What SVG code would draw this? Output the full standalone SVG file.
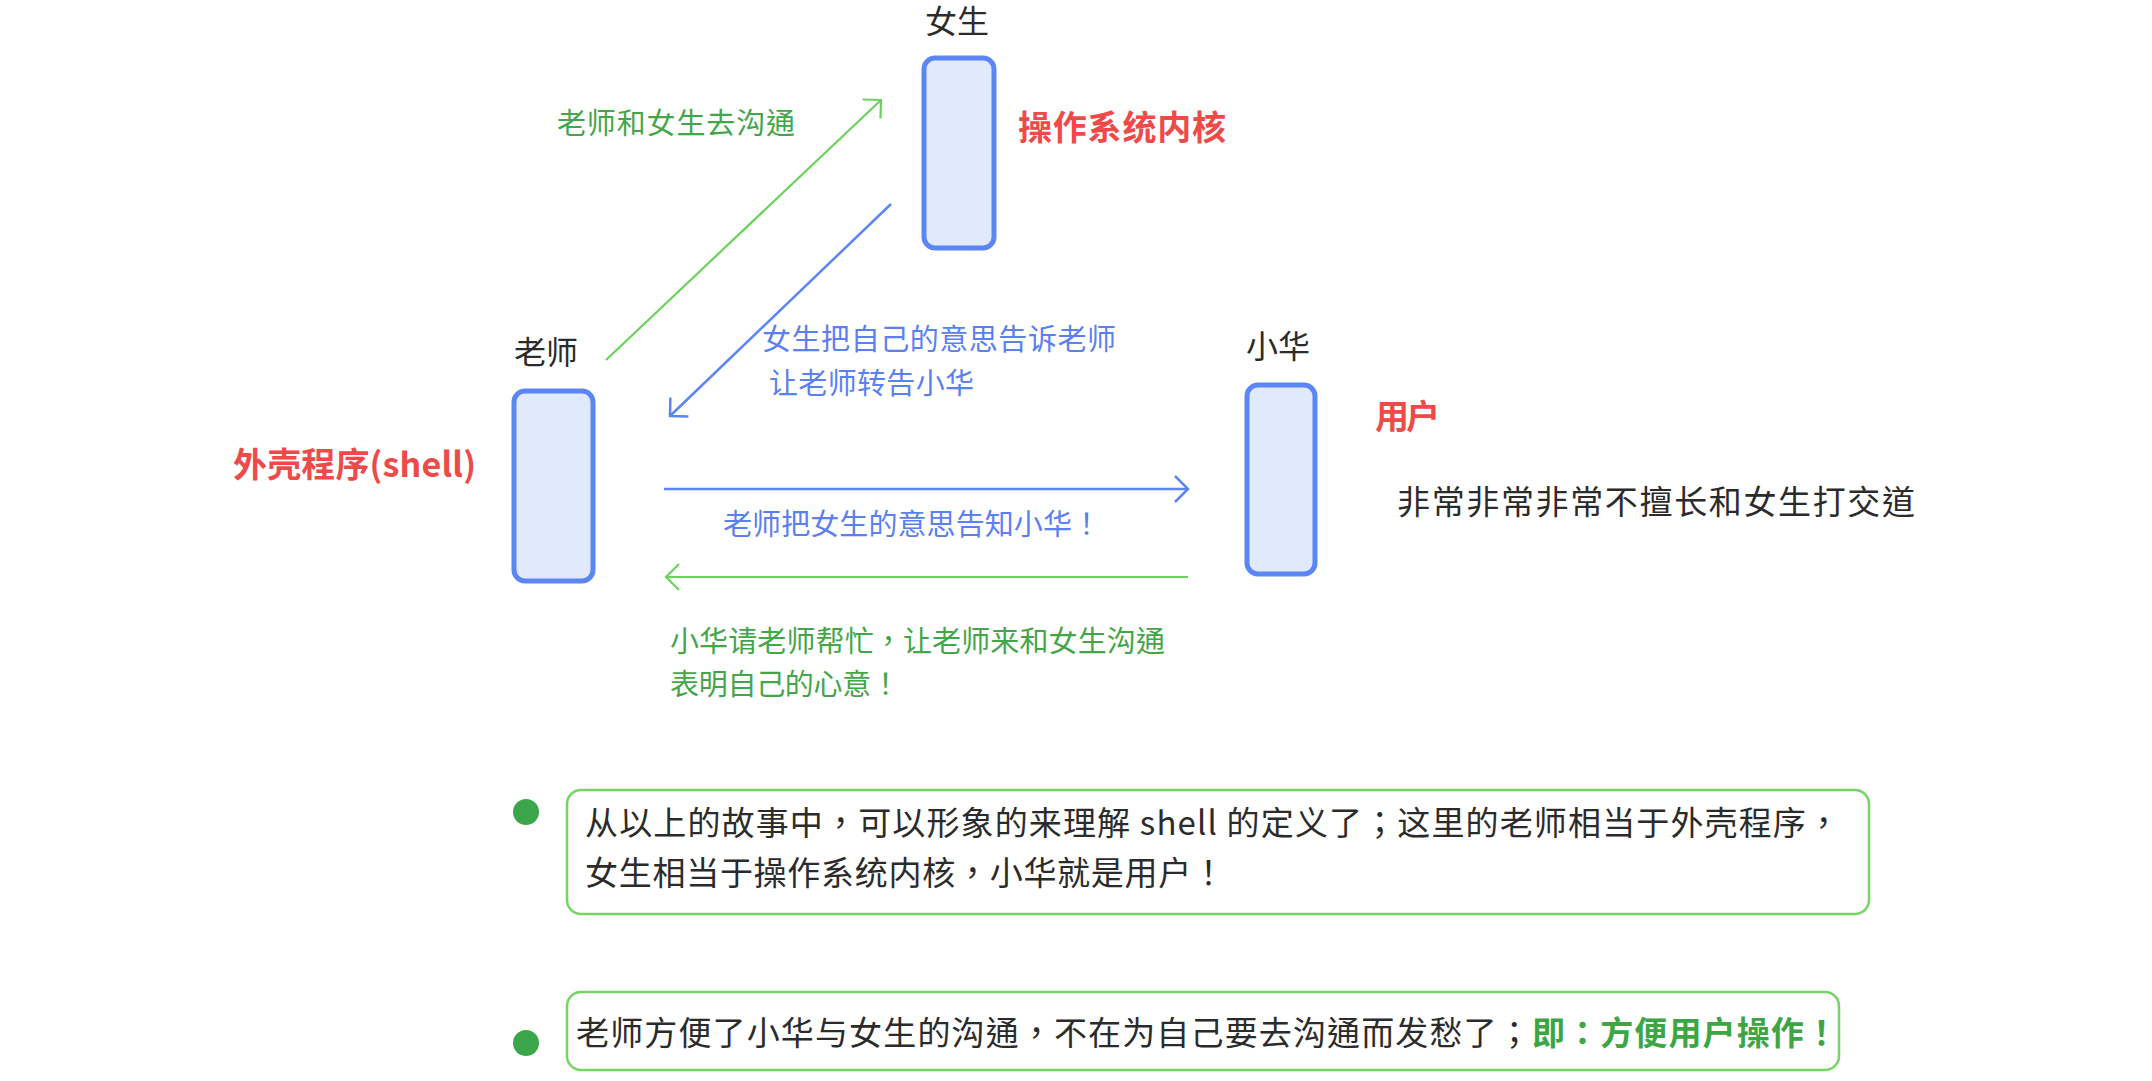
<svg xmlns="http://www.w3.org/2000/svg" width="2152" height="1081" viewBox="0 0 2152 1081">
<style>
text{font-family:"Noto Sans CJK TC","Noto Sans CJK SC","Noto Sans",sans-serif;}
.lbl{font-size:32px;fill:#2b2b2b;}
.big{font-size:33px;fill:#2b2b2b;}
.red{font-size:34px;font-weight:bold;fill:#ef4a4a;}
.blue{font-size:29px;fill:#5b80f2;}
.green{font-size:29px;fill:#43a649;}
.body{font-size:33px;fill:#2b2b2b;}
.gb{font-weight:bold;fill:#3ea545;}
.node{fill:#e1e9fd;stroke:#5b86f6;stroke-width:5;}
.card{fill:#fff;stroke:#77d466;stroke-width:2.5;}
.dot{fill:#3ba54a;}
.lg{stroke:#69d35a;stroke-width:2.2;fill:none;}
.lb{stroke:#5b86f5;stroke-width:2.5;fill:none;}
</style>
<defs>
<marker id="ag" viewBox="-15 -15 17 30" refX="0" refY="0" markerWidth="17" markerHeight="30" markerUnits="userSpaceOnUse" orient="auto">
<path d="M-13,-13 L0,0 L-13,13" fill="none" stroke="#69d35a" stroke-width="2.2"/>
</marker>
<marker id="ab" viewBox="-15 -15 17 30" refX="0" refY="0" markerWidth="17" markerHeight="30" markerUnits="userSpaceOnUse" orient="auto">
<path d="M-13,-13 L0,0 L-13,13" fill="none" stroke="#5b86f5" stroke-width="2.5"/>
</marker>
</defs>
<rect width="2152" height="1081" fill="#fff"/>

<g id="connectors">
<line class="lg" x1="606" y1="360" x2="881" y2="100" marker-end="url(#ag)"/>
<line class="lb" x1="891" y1="204" x2="670" y2="416" marker-end="url(#ab)"/>
<line class="lb" x1="664" y1="489" x2="1188" y2="489" marker-end="url(#ab)"/>
<line class="lg" x1="1188" y1="577" x2="666" y2="577" marker-end="url(#ag)"/>
<text class="green" x="557" y="134" textLength="238">老师和女生去沟通</text>
<text class="blue" x="762" y="350" textLength="354">女生把自己的意思告诉老师</text>
<text class="blue" x="769" y="394" textLength="205">让老师转告小华</text>
<text class="blue" x="723" y="535" textLength="378">老师把女生的意思告知小华！</text>
<text class="green" x="670" y="652" textLength="495">小华请老师帮忙，让老师来和女生沟通</text>
<text class="green" x="670" y="695" textLength="230">表明自己的心意！</text>
</g>

<g id="node-girl">
<text class="lbl" x="957" y="33" text-anchor="middle">女生</text>
<rect class="node" x="924" y="58" width="70" height="190" rx="11"/>
<text class="red" x="1018" y="140" textLength="208">操作系统内核</text>
</g>

<g id="node-teacher">
<text class="lbl" x="546" y="364" text-anchor="middle">老师</text>
<rect class="node" x="514" y="391" width="79" height="190" rx="11"/>
<text class="red" x="233" y="477" textLength="243">外壳程序(shell)</text>
</g>

<g id="node-xiaohua">
<text class="lbl" x="1278" y="358" text-anchor="middle">小华</text>
<rect class="node" x="1247" y="385" width="68" height="189" rx="11"/>
<text class="red" x="1375" y="429" textLength="65">用户</text>
<text class="big" x="1397" y="514" textLength="518">非常非常非常不擅长和女生打交道</text>
</g>

<g id="note-1">
<circle class="dot" cx="526" cy="812" r="13"/>
<rect class="card" x="567" y="790" width="1302" height="124" rx="14"/>
<text class="body" x="585" y="835" textLength="1255">从以上的故事中，可以形象的来理解 shell 的定义了；这里的老师相当于外壳程序，</text>
<text class="body" x="585" y="885" textLength="640">女生相当于操作系统内核，小华就是用户！</text>
</g>

<g id="note-2">
<circle class="dot" cx="526" cy="1043" r="13"/>
<rect class="card" x="567" y="992" width="1272" height="78" rx="14"/>
<text class="body" x="576" y="1045" textLength="1262">老师方便了小华与女生的沟通，不在为自己要去沟通而发愁了；<tspan class="gb">即：方便用户操作！</tspan></text>
</g>
</svg>
